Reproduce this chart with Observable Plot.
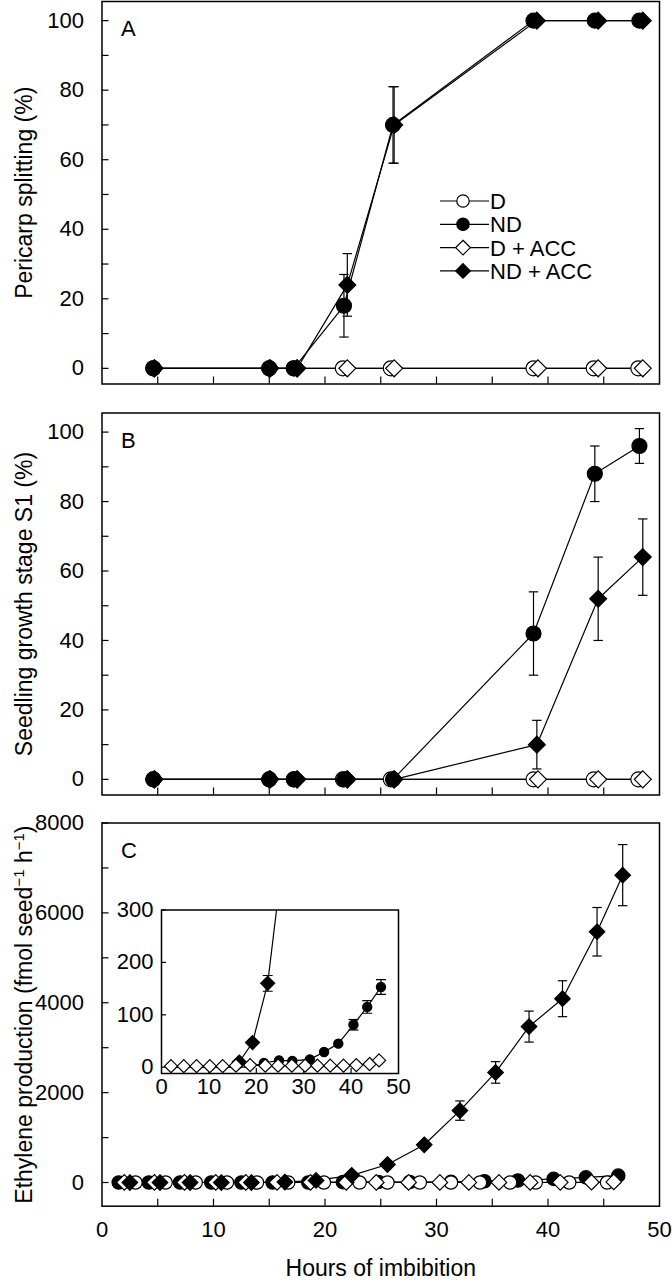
<!DOCTYPE html>
<html><head><meta charset="utf-8">
<script src="https://cdn.jsdelivr.net/npm/d3@7"></script>
<script src="https://cdn.jsdelivr.net/npm/@observablehq/plot@0.6"></script>
<style>
body{margin:0;background:#fff;}
#root{position:relative;width:672px;height:1280px;overflow:hidden;background:#fff;font-family:"Liberation Sans",Arial,Helvetica,sans-serif;}
#root svg{position:absolute;overflow:visible;}
</style></head><body><div id="root"></div>
<script>
// ================= DATA =================
// Panels A & B: sampling times (hours of imbibition) per treatment
const hoursD_AB     = [4.6, 15.0, 17.2, 21.6, 25.9, 38.7, 44.1, 48.1];
const hoursND_AB    = [4.6, 15.0, 17.2, 21.7, 26.1, 38.7, 44.2, 48.2];
const hoursDACC_AB  = [4.7, 15.0, 17.5, 22.0, 26.2, 39.1, 44.5, 48.5];
const hoursNDACC_AB = [4.7, 15.1, 17.5, 22.0, 26.2, 39.0, 44.5, 48.5];

// Panel A: pericarp splitting (%)
const splitD        = [0, 0, 0, 0, 0, 0, 0, 0];
const splitND       = [0, 0, 0, 18, 70, 100, 100, 100];
const splitNDErr    = [0, 0, 0, 9, 11, 0, 0, 0];
const splitDACC     = [0, 0, 0, 0, 0, 0, 0, 0];
const splitNDACC    = [0, 0, 0, 24, 70, 100, 100, 100];
const splitNDACCErr = [0, 0, 0, 9, 11, 0, 0, 0];

// Panel B: seedling growth stage S1 (%)
const stageD        = [0, 0, 0, 0, 0, 0, 0, 0];
const stageND       = [0, 0, 0, 0, 0, 42, 88, 96];
const stageNDErr    = [0, 0, 0, 0, 0, 12, 8, 5];
const stageDACC     = [0, 0, 0, 0, 0, 0, 0, 0];
const stageNDACC    = [0, 0, 0, 0, 0, 10, 52, 64];
const stageNDACCErr = [0, 0, 0, 0, 0, 7, 12, 11];

// Panel C: ethylene production (fmol seed-1 h-1)
const hoursD_C     = [3.0, 5.7, 8.4, 11.2, 13.9, 16.7, 19.9, 23.1, 25.6, 28.5, 31.3, 33.9, 36.6, 38.9, 41.9, 45.3];
const ethD         = [0, 0, 0, 0, 0, 0, 0, 0, 0, 0, 0, 0, 0, 0, 0, 0];
const hoursND_C    = [1.5, 4.2, 7.0, 9.8, 12.5, 15.3, 18.5, 21.6, 24.8, 27.6, 31.3, 34.3, 37.3, 40.5, 43.4, 46.3];
const ethND        = [0, 0, 0, 0, 0, 0, 0, 8, 13, 12, 15, 29, 45, 81, 115, 153];
const ethNDErr     = [0, 0, 0, 0, 0, 0, 0, 0, 0, 0, 0, 0, 0, 10, 12, 14];
const hoursDACC_C  = [2.0, 4.7, 7.4, 10.2, 12.9, 15.7, 18.7, 21.9, 24.6, 27.5, 30.3, 32.9, 35.6, 38.4, 41.1, 43.9, 45.9];
const ethDACC      = [2, 2, 2, 2, 2, 3, 4, 3, 3, 3, 3, 3, 3, 3, 4, 6, 13];
const hoursNDACC_C = [2.5, 5.2, 7.9, 10.7, 13.4, 16.4, 19.2, 22.4, 25.6, 28.9, 32.1, 35.3, 38.3, 41.3, 44.4, 46.7];
const ethNDACC     = [0, 0, 0, 0, 0, 10, 47, 160, 400, 840, 1600, 2450, 3470, 4090, 5580, 6840];
const ethNDACCErr  = [0, 0, 0, 0, 0, 0, 0, 15, 0, 0, 215, 240, 345, 400, 540, 680];

// Tick values / labels
const hourTicks      = [5, 10, 15, 20, 25, 30, 35, 40, 45];
const hourTickLabels = [0, 10, 20, 30, 40, 50];
const pctTicks       = [0, 10, 20, 30, 40, 50, 60, 70, 80, 90, 100];
const pctTickLabels  = [0, 20, 40, 60, 80, 100];
const ethTicks       = [0, 1000, 2000, 3000, 4000, 5000, 6000, 7000, 8000];
const ethTickLabels  = [0, 2000, 4000, 6000, 8000];
const insetYTickLabels = [0, 100, 200, 300];
const insetXTickLabels = [0, 10, 20, 30, 40, 50];
const insetXTicks      = [10, 20, 30, 40];

const legendNames = ["D", "ND", "D + ACC", "ND + ACC"];

// ================= HELPERS =================
const FONT = '"Liberation Sans", Arial, Helvetica, sans-serif';
const fmt = d => String(d);
const root = document.getElementById("root");
const rows = (h, v, e) => h.map((x, i) => ({h: x, v: v[i], e: e ? e[i] : 0}));
const hline = {draw(ctx, size) { const w = Math.sqrt(size / Math.PI); ctx.moveTo(-w, 0); ctx.lineTo(w, 0); }};

function seriesMarks(list, {capR = 4.7, clip = false, yMax = Infinity} = {}) {
  const m = [];
  for (const s of list) m.push(Plot.line(s.rows, {x: "h", y: "v", stroke: "black", strokeWidth: 1.2, clip}));
  for (const s of list) {
    const eb = s.rows.filter(d => d.e > 0 && d.v <= yMax);
    if (!eb.length) continue;
    m.push(Plot.link(eb, {x1: "h", x2: "h", y1: d => d.v - d.e, y2: d => d.v + d.e, stroke: "black", strokeWidth: 1.2, clip}));
    m.push(Plot.dot(eb, {x: "h", y: d => d.v - d.e, symbol: hline, r: capR, stroke: "black", fill: "none", strokeWidth: 1.2, clip}));
    m.push(Plot.dot(eb, {x: "h", y: d => d.v + d.e, symbol: hline, r: capR, stroke: "black", fill: "none", strokeWidth: 1.2, clip}));
  }
  for (const s of list) m.push(Plot.dot(s.dotRows || s.rows, {x: "h", y: "v", symbol: s.symbol, r: s.r,
    fill: s.filled ? "black" : "white", stroke: "black", strokeWidth: 1.2}));
  return m;
}

function place(el, left, top) { el.style.left = left + "px"; el.style.top = top + "px"; root.appendChild(el); return el; }

function panel({top, height, marginTop, marginBottom, yDomain, yTicks, yLabels, yLabel, letter, xLabels, series}) {
  const marks = [
    Plot.frame({stroke: "black", strokeWidth: 1.5}),
    // inward ticks: positive length shifted inside the frame
    Plot.axisY(yTicks, {tickSize: 7, dx: 7, fill: "none", strokeWidth: 1.2}),
    Plot.axisY(yLabels, {tickSize: 0, tickPadding: 18, fontSize: 22, tickFormat: fmt, label: yLabel, labelAnchor: "center", labelArrow: "none", labelOffset: 86}),
    Plot.axisX(hourTicks, {tickSize: 7, dy: -7, fill: "none", strokeWidth: 1.2}),
    ...(xLabels ? [Plot.axisX(hourTickLabels, {tickSize: 0, tickPadding: 15, fontSize: 22, tickFormat: fmt, label: "Hours of imbibition", labelAnchor: "center", labelArrow: "none", labelOffset: 70})] : []),
    ...seriesMarks(series),
    Plot.text([letter], {text: d => d, frameAnchor: "top-left", dx: 19, dy: 19, textAnchor: "start", lineAnchor: "top", fontSize: 22, fill: "black"})
  ];
  const svg = Plot.plot({
    width: 672, height,
    marginLeft: 101.5, marginRight: 13, marginTop, marginBottom,
    style: {fontFamily: FONT, fontSize: "22px", background: "transparent", color: "black", overflow: "visible"},
    x: {domain: [0, 50]},
    y: {domain: yDomain},
    marks
  });
  svg.querySelectorAll('g[aria-label$="axis label"] text').forEach(t => t.setAttribute("font-size", "23px"));
  return place(svg, 0, top);
}

// ================= PANEL A =================
panel({
  top: 0, height: 412, marginTop: 1, marginBottom: 28.5,
  yDomain: [-4.5, 105.5], yTicks: pctTicks, yLabels: pctTickLabels,
  yLabel: "Pericarp splitting (%)", letter: "A",
  series: [
    {rows: rows(hoursD_AB, splitD), symbol: "circle", r: 7.5, filled: false},
    {rows: rows(hoursDACC_AB, splitDACC), symbol: "diamond2", r: 7.6, filled: false},
    {rows: rows(hoursND_AB, splitND, splitNDErr), symbol: "circle", r: 7.5, filled: true},
    {rows: rows(hoursNDACC_AB, splitNDACC, splitNDACCErr), symbol: "diamond2", r: 7.6, filled: true}
  ]
});

// ================= PANEL B =================
panel({
  top: 411, height: 412, marginTop: 1.5, marginBottom: 28.5,
  yDomain: [-4.5, 105.5], yTicks: pctTicks, yLabels: pctTickLabels,
  yLabel: "Seedling growth stage S1 (%)", letter: "B",
  series: [
    {rows: rows(hoursD_AB, stageD), symbol: "circle", r: 7.5, filled: false},
    {rows: rows(hoursDACC_AB, stageDACC), symbol: "diamond2", r: 7.6, filled: false},
    {rows: rows(hoursND_AB, stageND, stageNDErr), symbol: "circle", r: 7.5, filled: true},
    {rows: rows(hoursNDACC_AB, stageNDACC, stageNDACCErr), symbol: "diamond2", r: 7.6, filled: true}
  ]
});

// ================= PANEL C =================
const svgC = panel({
  top: 821, height: 459, marginTop: 1.5, marginBottom: 74.3,
  yDomain: [-527, 8000], yTicks: ethTicks, yLabels: ethTickLabels,
  yLabel: "Ethylene production (fmol seed-1 h-1)", letter: "C", xLabels: true,
  series: [
    {rows: rows(hoursND_C, ethND), symbol: "circle", r: 6.7, filled: true},
    {rows: rows(hoursD_C, ethD), symbol: "circle", r: 6.7, filled: false},
    {rows: rows(hoursDACC_C, ethDACC), symbol: "diamond2", r: 7.0, filled: false},
    {rows: rows(hoursNDACC_C, ethNDACC, ethNDACCErr), symbol: "diamond2", r: 7.0, filled: true}
  ]
});
// superscripts in the y label
{
  const t = [...svgC.querySelectorAll("text")].find(t => t.textContent.startsWith("Ethylene"));
  if (t) {
    const parts = [["Ethylene production (fmol seed", false], ["\u22121", true], [" h", false], ["\u22121", true], [")", false]];
    while (t.firstChild) t.removeChild(t.firstChild);
    for (const [s, sup] of parts) {
      const ts = document.createElementNS("http://www.w3.org/2000/svg", "tspan");
      ts.textContent = s;
      if (sup) { ts.setAttribute("baseline-shift", "super"); ts.setAttribute("font-size", "15px"); }
      t.appendChild(ts);
    }
  }
}

// ================= INSET (panel C) =================
{
  const ndRows = rows(hoursND_C, ethND, ethNDErr);
  const ndaccRows = rows(hoursNDACC_C, ethNDACC, ethNDACCErr);
  const daccRows = rows(hoursDACC_C, ethDACC);
  const inset = Plot.plot({
    width: 310, height: 215,
    marginLeft: 61, marginRight: 12, marginTop: 19.5, marginBottom: 32,
    style: {fontFamily: FONT, fontSize: "22px", background: "transparent", color: "black", overflow: "visible"},
    x: {domain: [0, 50]},
    y: {domain: [-12, 300]},
    marks: [
      Plot.frame({fill: "white", stroke: "none"}),
      Plot.axisY(insetYTickLabels, {tickSize: 5, dx: 5, fill: "none", strokeWidth: 1.2}),
      Plot.axisY(insetYTickLabels, {tickSize: 0, tickPadding: 8, fontSize: 22, tickFormat: fmt, label: null}),
      Plot.axisX(insetXTicks, {tickSize: 5, dy: -5, fill: "none", strokeWidth: 1.2}),
      Plot.axisX(insetXTickLabels, {tickSize: 0, tickPadding: 5, fontSize: 22, tickFormat: fmt, label: null}),
      ...seriesMarks([
        {rows: ndRows, dotRows: ndRows.filter(d => d.v > 0), symbol: "circle", r: 4.6, filled: true},
        {rows: ndaccRows, dotRows: ndaccRows.filter(d => d.v > 0 && d.v <= 300), symbol: "diamond2", r: 6.3, filled: true},
        {rows: daccRows, symbol: "diamond2", r: 5.9, filled: false}
      ], {capR: 5, clip: true, yMax: 300}),
      Plot.frame({stroke: "black", strokeWidth: 1.5})
    ]
  });
  place(inset, 100, 890);
}

// ================= LEGEND (panel A) =================
{
  const leg = d3.create("svg").attr("width", 220).attr("height", 110)
    .style("font-family", FONT).style("font-size", "22px");
  const ox = 430, oy = 185;
  legendNames.forEach((name, i) => {
    const y = 16 + i * 23.3;
    const g = leg.append("g").attr("transform", `translate(0,${y})`);
    g.append("line").attr("x1", 10).attr("x2", 59).attr("y1", 0).attr("y2", 0).attr("stroke", "black").attr("stroke-width", 1.2);
    const filled = i % 2 === 1;
    const diamond = i >= 2;
    if (diamond) {
      g.append("path").attr("d", d3.symbol(d3.symbolDiamond2, Math.PI * 6.6 * 6.6)()).attr("transform", "translate(33,0)")
        .attr("fill", filled ? "black" : "white").attr("stroke", "black").attr("stroke-width", 1.2);
    } else {
      g.append("circle").attr("cx", 33).attr("cy", 0).attr("r", 6.2)
        .attr("fill", filled ? "black" : "white").attr("stroke", "black").attr("stroke-width", 1.2);
    }
    g.append("text").attr("x", 60).attr("y", 0).attr("dy", "0.36em").attr("fill", "black").text(name);
  });
  place(leg.node(), ox, oy);
}
</script></body></html>
